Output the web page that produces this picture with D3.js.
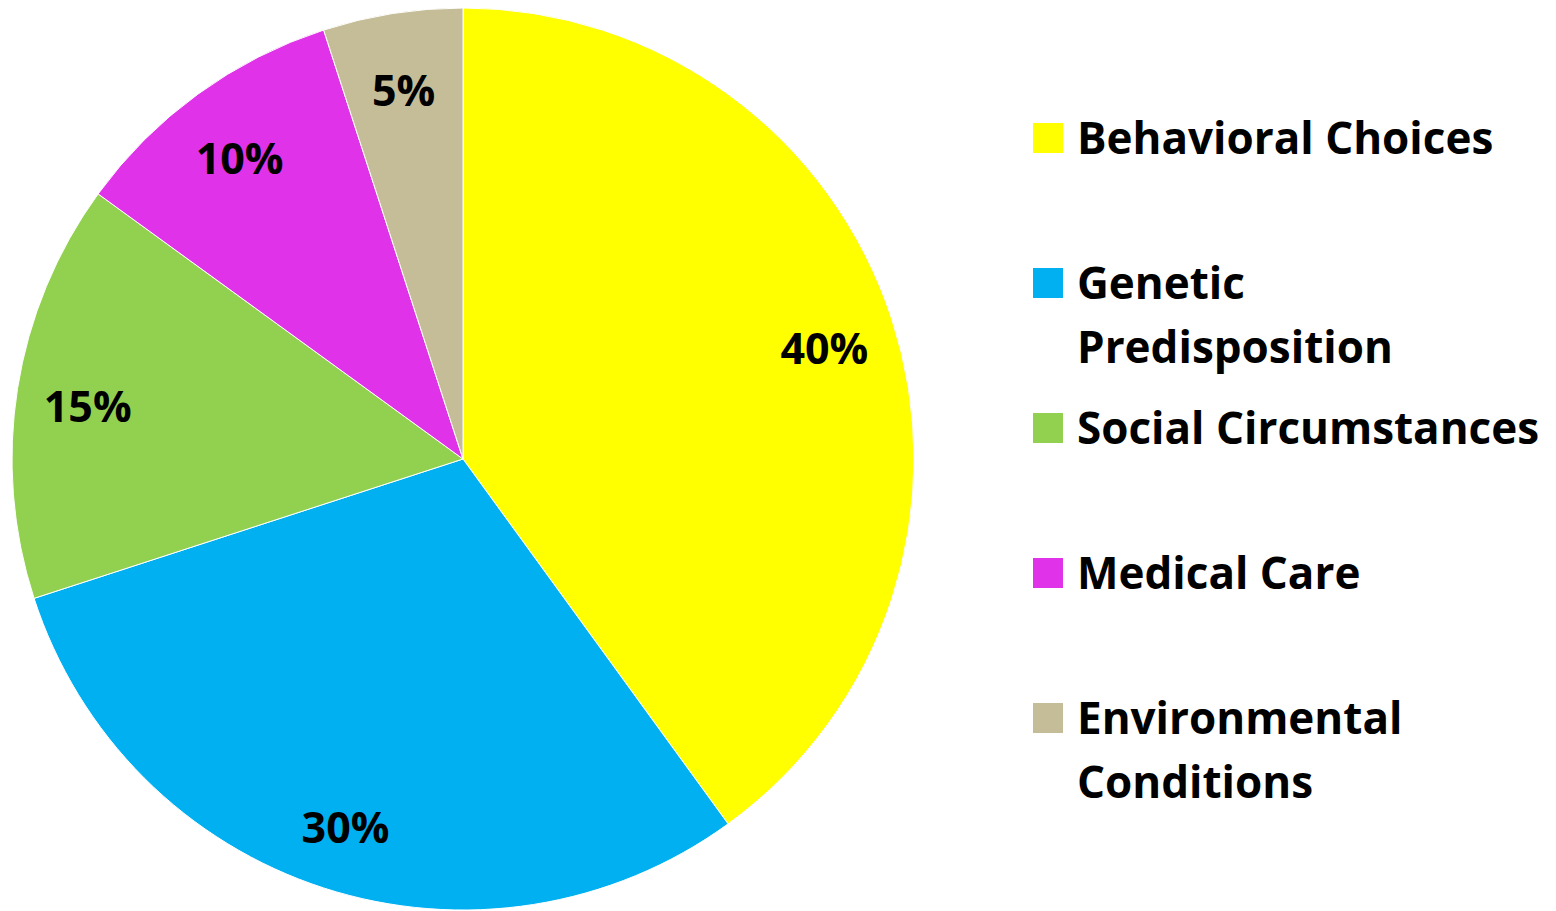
<!DOCTYPE html>
<html>
<head>
<meta charset="utf-8">
<script src="https://cdn.jsdelivr.net/npm/d3@7"></script>
<style>
  body { margin: 0; background: #fff; }
  text { font-family: "Open Sans", "Liberation Sans", sans-serif; font-weight: bold; }
</style>
</head>
<body>
<div id="chart"></div>
<script>
var categories = ["Behavioral Choices", "Genetic Predisposition", "Social Circumstances", "Medical Care", "Environmental Conditions"];
var legendLines = [["Behavioral Choices"], ["Genetic", "Predisposition"], ["Social Circumstances"], ["Medical Care"], ["Environmental", "Conditions"]];
var values = [40, 30, 15, 10, 5];
var colors = ["#FFFF00", "#00B0F0", "#92D050", "#E033E9", "#C4BD97"];

var width = 1556, height = 911;
var cx = 463, cy = 459, radius = 451;

var svg = d3.select("#chart")
  .append("svg")
  .attr("width", width)
  .attr("height", height);

var data = categories.map(function(c, i) {
  return { name: c, value: values[i], lines: legendLines[i] };
});

var colorScale = d3.scaleOrdinal().domain(categories).range(colors);

var pie = d3.pie()
  .value(function(d) { return d.value; })
  .sort(null);

var arc = d3.arc().innerRadius(0).outerRadius(radius);
var labelArc = d3.arc().innerRadius(380).outerRadius(380);

var pieHolder = svg.append("g").attr("transform", "translate(" + cx + "," + cy + ")");

var g = pieHolder.selectAll(".arc")
  .data(pie(data))
  .enter().append("g")
  .attr("class", "arc");

g.append("path")
  .attr("d", arc)
  .attr("fill", function(d) { return colorScale(d.data.name); })
  .attr("stroke", "#fff")
  .attr("stroke-width", 1);

g.append("text")
  .attr("transform", function(d) { return "translate(" + labelArc.centroid(d) + ")"; })
  .attr("text-anchor", "middle")
  .attr("dy", "0.52em")
  .style("font-size", "43px")
  .text(function(d) { return d.data.value + "%"; });

// legend
var legend = svg.append("g").attr("transform", "translate(1033,123)");

var item = legend.selectAll(".item")
  .data(data)
  .enter().append("g")
  .attr("class", "item")
  .attr("transform", function(d, i) { return "translate(0," + (i * 145) + ")"; });

item.append("rect")
  .attr("width", 30)
  .attr("height", 30)
  .attr("fill", function(d) { return colorScale(d.name); });

item.append("text")
  .attr("x", 44)
  .attr("y", 31)
  .style("font-size", "44px")
  .selectAll("tspan")
  .data(function(d) { return d.lines; })
  .enter().append("tspan")
  .attr("x", 44)
  .attr("dy", function(d, i) { return i === 0 ? 0 : 64; })
  .text(function(d) { return d; });
</script>
</body>
</html>
